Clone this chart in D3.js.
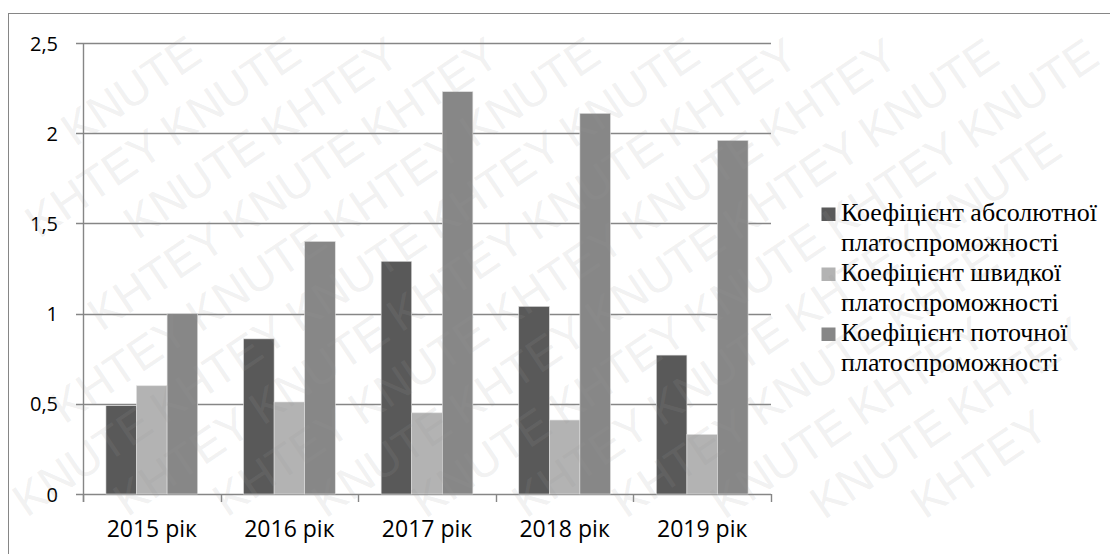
<!DOCTYPE html>
<html><head><meta charset="utf-8">
<script src="https://cdn.jsdelivr.net/npm/d3@7"></script>
<style>body{margin:0;background:#fff}svg{display:block}</style>
</head><body><svg id="c" width="1110" height="554"></svg>
<script>
const categories = ["2015 рік","2016 рік","2017 рік","2018 рік","2019 рік"];
const seriesNames = [
  ["Коефіцієнт абсолютної","платоспроможності"],
  ["Коефіцієнт швидкої","платоспроможності"],
  ["Коефіцієнт поточної","платоспроможності"]
];
const absoluteRatio = [0.49, 0.86, 1.29, 1.04, 0.77];
const quickRatio    = [0.60, 0.51, 0.45, 0.41, 0.33];
const currentRatio  = [1.00, 1.40, 2.23, 2.11, 1.96];
const yTicks = [0, 0.5, 1, 1.5, 2, 2.5];
const yTickLabels = ["0","0,5","1","1,5","2","2,5"];
const watermarkWords = ["KHTEY","KNUTE"];
const colors = ["#595959","#b3b3b3","#878787"];
const seriesValues = [absoluteRatio, quickRatio, currentRatio];

(function(){
const W=1110, H=554;
const svg = d3.select("#c");
const AX = '"Open Sans"', LEG = '"Liberation Serif"', WMF = '"Liberation Sans"';

// outer border
svg.append("rect").attr("x",8.5).attr("y",13.5).attr("width",1200).attr("height",600)
  .attr("fill","none").attr("stroke","#868686").attr("stroke-width",1);

const pL=83, pR=771, pT=43, pB=494;
const x0 = d3.scaleBand().domain(categories).range([pL,pR]).padding(0);
const bw = x0.bandwidth();
const x1 = d3.scaleBand().domain([0,1,2]).range([bw/6, bw*5/6]).padding(0);
const y = d3.scaleLinear().domain([0,2.5]).range([pB,pT]);

// gridlines
svg.append("g").selectAll("line").data(yTicks).join("line")
  .attr("x1",pL-7).attr("x2",pR).attr("y1",d=>Math.round(y(d))+0.5).attr("y2",d=>Math.round(y(d))+0.5)
  .attr("stroke","#868686").attr("stroke-width",1.4);
// y axis line
svg.append("line").attr("x1",pL+0.5).attr("x2",pL+0.5).attr("y1",pT).attr("y2",pB+8)
  .attr("stroke","#868686").attr("stroke-width",1.4);
// x ticks
const bounds = categories.map(c=>x0(c)).concat([pR]);
svg.append("g").selectAll("line").data(bounds).join("line")
  .attr("x1",d=>Math.round(d)+0.5).attr("x2",d=>Math.round(d)+0.5).attr("y1",pB).attr("y2",pB+8)
  .attr("stroke","#868686").attr("stroke-width",1.4);

// bars
const g = svg.append("g");
categories.forEach((c,i)=>{
  seriesValues.forEach((vals,s)=>{
    g.append("rect").attr("x",x0(c)+x1(s)).attr("width",x1.bandwidth())
      .attr("y",y(vals[i])).attr("height",y(0)-y(vals[i])).attr("fill",colors[s])
      .attr("stroke","#e0e0e0").attr("stroke-width",0.6);
  });
});

// y labels
svg.append("g").selectAll("text").data(yTicks).join("text").attr("font-family",AX)
  .attr("x",58).attr("y",d=>y(d)+7.5).attr("text-anchor","end")
  .attr("font-size",20).attr("fill","#000")
  .text((d,i)=>yTickLabels[i]);
// x labels
svg.append("g").selectAll("text").data(categories).join("text").attr("font-family",AX)
  .attr("x",d=>x0(d)+bw/2).attr("y",537).attr("text-anchor","middle")
  .attr("font-size",23).attr("fill","#000")
  .text(d=>d);

// legend
const lg = svg.append("g");
const legTexts=[];
seriesNames.forEach((lines,s)=>{
  const yb = 221 + s*60;
  lg.append("rect").attr("x",821.5).attr("y",yb-13.5).attr("width",14).attr("height",13.5).attr("fill",colors[s]);
  lines.forEach((t,k)=>{
    legTexts.push(lg.append("text").attr("font-family",LEG).attr("x",841).attr("y",yb+k*30)
      .attr("font-size",23).attr("fill","#000").text(t));
  });
});
const w0 = legTexts[0].node().getComputedTextLength();
const fs = Math.max(19, Math.min(26, 23*265/w0));
legTexts.forEach(t=>t.attr("font-size",fs));

// watermark overlay (only words fully inside the picture)
const wm = svg.append("g").attr("font-family",WMF).attr("fill","#9a9a9a").attr("fill-opacity",0.15)
  .attr("font-size",46);
const ang=-34, rad=ang*Math.PI/180;
const step=165, lineGap=56;
for(let r=-14;r<=14;r++){
  for(let k=-8;k<=8;k++){
    const u = k*step + (r%2!==0?step/2:0);
    const v = r*lineGap;
    const cx = W/2 + u*Math.cos(rad) - v*Math.sin(rad);
    const cy = H/2 + u*Math.sin(rad) + v*Math.cos(rad);
    wm.append("text").attr("text-anchor","middle").attr("dy","0.35em")
      .attr("transform",`translate(${cx},${cy}) rotate(${ang})`)
      .text(watermarkWords[((k+r)%2+2)%2]);
  }
}
const sr = svg.node().getBoundingClientRect();
wm.selectAll("text").each(function(){
  const b=this.getBoundingClientRect();
  if(b.left<sr.left+1||b.top<sr.top+1||b.right>sr.left+W-1||b.bottom>sr.top+H-1) this.remove();
});
})();
</script></body></html>
